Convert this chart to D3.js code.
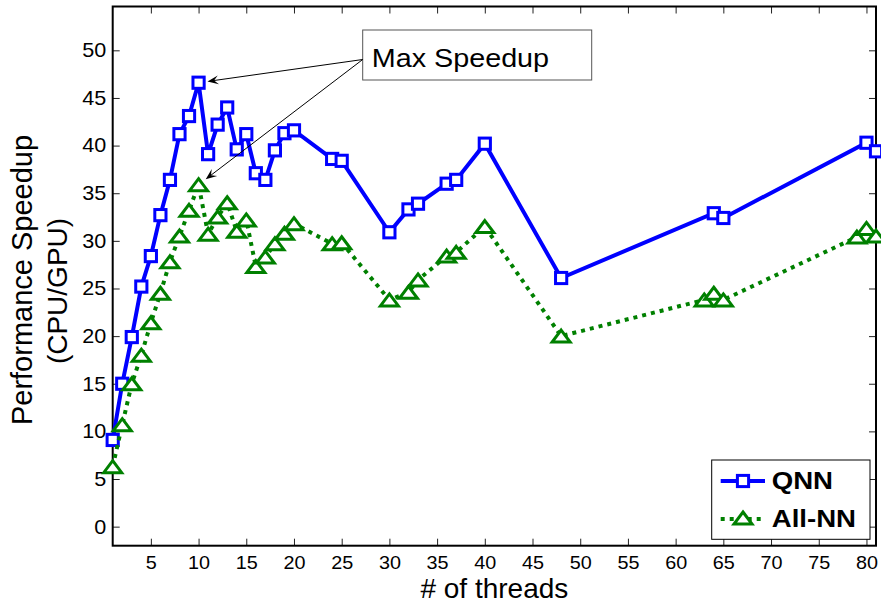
<!DOCTYPE html>
<html>
<head>
<meta charset="utf-8">
<script src="https://cdn.jsdelivr.net/npm/d3@7"></script>
<style>
body { margin: 0; background: #fff; }
svg { display: block; font-family: "Liberation Sans", Arial, sans-serif; }
</style>
</head>
<body>
<svg id="canvas" width="881" height="606"></svg>
<script>
// Data
let qnnThreads = [1, 2, 3, 4, 5, 6, 7, 8, 9, 10, 11, 12, 13, 14, 15, 16, 17, 18, 19, 20, 24, 25, 30, 32, 33, 36, 37, 40, 48, 64, 65, 80, 81]
let qnnSpeedup = [9.1, 15.0, 19.9, 25.2, 28.4, 32.7, 36.4, 41.2, 43.1, 46.6, 39.1, 42.2, 44.0, 39.6, 41.2, 37.1, 36.4, 39.5, 41.3, 41.6, 38.6, 38.4, 30.9, 33.3, 33.9, 36.0, 36.4, 40.2, 26.1, 32.9, 32.4, 40.3, 39.4]

let allThreads = [1, 2, 3, 4, 5, 6, 7, 8, 9, 10, 11, 12, 13, 14, 15, 16, 17, 18, 19, 20, 24, 25, 30, 32, 33, 36, 37, 40, 48, 63, 64, 65, 79, 80, 81]
let allSpeedup = [6.3, 10.7, 15.0, 18.0, 21.4, 24.5, 27.8, 30.5, 33.2, 35.9, 30.7, 32.5, 34.0, 31.0, 32.2, 27.3, 28.3, 29.7, 30.8, 31.8, 29.7, 29.8, 23.8, 24.6, 25.9, 28.4, 28.8, 31.5, 20.0, 23.8, 24.5, 23.8, 30.4, 31.3, 30.5]

let xTicks = d3.range(5, 81, 5)
let yTicks = d3.range(0, 51, 5)
let seriesNames = ['QNN', 'All-NN']
let noteText = 'Max Speedup'

let canvas = d3.select('#canvas')

// plot box in pixels
let boxL = 112.7, boxR = 876, boxT = 6.5, boxB = 545.7

let x = d3.scaleLinear().domain([1, 81]).range([boxL, boxR])
let y = d3.scaleLinear().domain([-2, 54.6]).range([boxB, boxT])

let blue = '#0000ff'
let green = '#008000'
let triPath = 'M0,-6L9,6L-9,6Z'

// ticks (inward, like matlab)
let axisStyle = (g) => {
    g.select('.domain').remove()
    g.selectAll('line').attr('stroke', '#222').attr('stroke-width', 1)
    g.selectAll('text').attr('fill', '#000')
}

canvas.append('g')
    .attr('transform', `translate(${boxL},0)`)
    .call(d3.axisLeft(y).tickValues(yTicks).tickSizeInner(-7).tickSizeOuter(0).tickPadding(6))
    .call(axisStyle)
    .selectAll('text').attr('font-size', 20).attr('transform', 'scale(1.08,1)')

canvas.append('g')
    .attr('transform', `translate(${boxR},0)`)
    .call(d3.axisRight(y).tickValues(yTicks).tickSizeInner(-7).tickSizeOuter(0).tickFormat(''))
    .call(axisStyle)

canvas.append('g')
    .attr('transform', `translate(0,${boxB})`)
    .call(d3.axisBottom(x).tickValues(xTicks).tickSizeInner(-7).tickSizeOuter(0).tickPadding(11))
    .call(axisStyle)
    .selectAll('text').attr('font-size', 18).attr('transform', 'scale(1.1,1)')

canvas.append('g')
    .attr('transform', `translate(0,${boxT})`)
    .call(d3.axisTop(x).tickValues(xTicks).tickSizeInner(-7).tickSizeOuter(0).tickFormat(''))
    .call(axisStyle)

// frame
canvas.append('rect')
    .attr('x', boxL).attr('y', boxT)
    .attr('width', boxR - boxL).attr('height', boxB - boxT)
    .attr('fill', 'none').attr('stroke', '#000').attr('stroke-width', 2)

// axis titles
canvas.append('text')
    .attr('x', (boxL + boxR) / 2).attr('y', 598)
    .attr('text-anchor', 'middle').attr('font-size', 28)
    .text('# of threads')

canvas.append('text')
    .attr('transform', 'translate(32,280) rotate(-90)')
    .attr('text-anchor', 'middle').attr('font-size', 29)
    .text('Performance Speedup')
canvas.append('text')
    .attr('transform', 'translate(67,291) rotate(-90)')
    .attr('text-anchor', 'middle').attr('font-size', 28)
    .text('(CPU/GPU)')

// series
let qnn = d3.zip(qnnThreads, qnnSpeedup)
let allnn = d3.zip(allThreads, allSpeedup)
let line = d3.line().x(d => x(d[0])).y(d => y(d[1]))

canvas.append('path')
    .datum(qnn)
    .attr('d', line)
    .attr('fill', 'none').attr('stroke', blue).attr('stroke-width', 4)

canvas.selectAll('.qnn-mark')
    .data(qnn)
    .enter()
    .append('rect')
    .attr('class', 'qnn-mark')
    .attr('x', d => x(d[0]) - 5.6).attr('y', d => y(d[1]) - 5.6)
    .attr('width', 11.2).attr('height', 11.2)
    .attr('fill', '#fff').attr('stroke', blue).attr('stroke-width', 3)

canvas.append('path')
    .datum(allnn)
    .attr('d', line)
    .attr('fill', 'none').attr('stroke', green).attr('stroke-width', 4)
    .attr('stroke-dasharray', '4,5')

canvas.selectAll('.all-mark')
    .data(allnn)
    .enter()
    .append('path')
    .attr('class', 'all-mark')
    .attr('transform', d => `translate(${x(d[0])},${y(d[1])})`)
    .attr('d', triPath)
    .attr('fill', '#fff').attr('stroke', green).attr('stroke-width', 3)

// annotation box + arrows to the two peaks
let noteX = 362.7, noteY = 30, noteW = 229, noteH = 50
let from = [noteX, 59.5]

canvas.append('rect')
    .attr('x', noteX).attr('y', noteY).attr('width', noteW).attr('height', noteH)
    .attr('fill', '#fff').attr('stroke', '#555').attr('stroke-width', 1)
canvas.append('text')
    .attr('transform', `translate(${noteX + 9},66.7) scale(1.15,1)`)
    .attr('font-size', 25)
    .text(noteText)

let peaks = [
    qnn[d3.maxIndex(qnnSpeedup)],
    allnn[d3.maxIndex(allSpeedup)]
]

peaks.forEach(p => {
    let cx = x(p[0]), cy = y(p[1])
    let dx = cx - from[0], dy = cy - from[1]
    let len = Math.sqrt(dx * dx + dy * dy)
    let ux = dx / len, uy = dy / len
    let tx = cx - 9 * ux, ty = cy - 9 * uy   // tip stops at marker edge
    let nx = -uy, ny = ux
    let L = 11, W = 4.5
    let bx = tx - L * ux, by = ty - L * uy
    let mx = tx - 0.6 * L * ux, my = ty - 0.6 * L * uy

    canvas.append('line')
        .attr('x1', from[0]).attr('y1', from[1])
        .attr('x2', mx).attr('y2', my)
        .attr('stroke', '#000').attr('stroke-width', 1)
    canvas.append('path')
        .attr('d', `M${tx},${ty}L${bx + W * nx},${by + W * ny}L${mx},${my}L${bx - W * nx},${by - W * ny}Z`)
        .attr('fill', '#000')
})

// legend
let lg = canvas.append('g')
lg.append('rect')
    .attr('x', 711.7).attr('y', 460).attr('width', 158.3).attr('height', 79.3)
    .attr('fill', '#fff').attr('stroke', '#000').attr('stroke-width', 1)

let legendRows = [
    { name: seriesNames[0], color: blue, dash: null, y: 481 },
    { name: seriesNames[1], color: green, dash: '4,5', y: 519 }
]

legendRows.forEach((r, i) => {
    lg.append('line')
        .attr('x1', 720.7).attr('x2', 765).attr('y1', r.y).attr('y2', r.y)
        .attr('stroke', r.color).attr('stroke-width', 4)
        .attr('stroke-dasharray', r.dash)
    if (i == 0) {
        lg.append('rect')
            .attr('x', 743 - 5.6).attr('y', r.y - 5.6).attr('width', 11.2).attr('height', 11.2)
            .attr('fill', '#fff').attr('stroke', r.color).attr('stroke-width', 3)
    } else {
        lg.append('path')
            .attr('transform', `translate(743,${r.y - 1})`)
            .attr('d', triPath)
            .attr('fill', '#fff').attr('stroke', r.color).attr('stroke-width', 3)
    }
    lg.append('text')
        .attr('transform', `translate(771.7,${r.y + 8}) scale(1.15,1)`)
        .attr('font-size', 24).attr('font-weight', 'bold')
        .text(r.name)
})
</script>
</body>
</html>
